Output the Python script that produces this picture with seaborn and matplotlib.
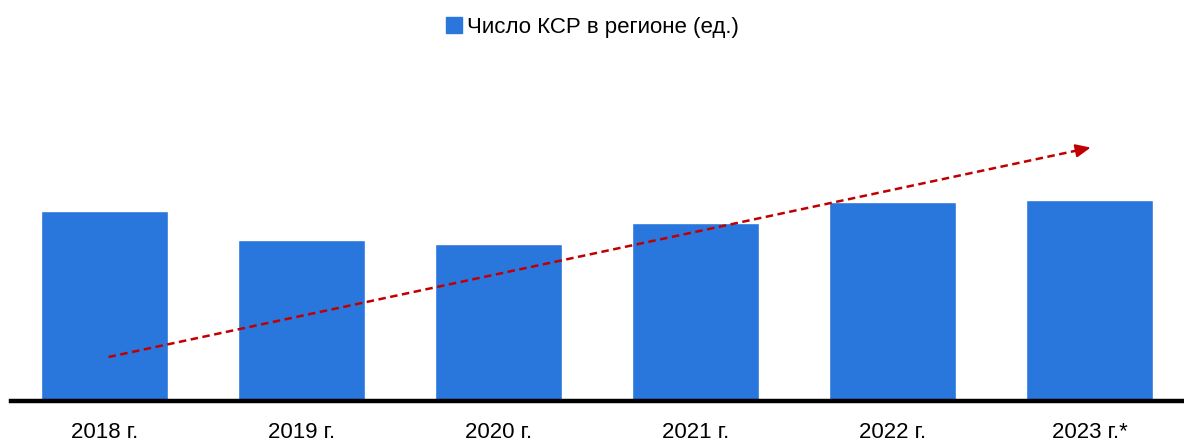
import seaborn as sns
import pandas as pd
import matplotlib.pyplot as plt
from matplotlib.patches import Patch

years = ['2018 г.', '2019 г.', '2020 г.', '2021 г.', '2022 г.', '2023 г.*']
counts = [190, 161, 157, 178, 199, 201]
legend_label = 'Число КСР в регионе (ед.)'

bar_color = '#2976DD'
arrow_color = '#C00000'

df = pd.DataFrame({'year': years, 'count': counts})

sns.set_style('white')
plt.rcParams['font.family'] = ['Liberation Sans', 'DejaVu Sans']

fig = plt.figure(figsize=(11.84, 4.44), dpi=100)
ax = fig.add_axes([11 / 1184, 43 / 444, 1173 / 1184, 260 / 444])

sns.barplot(data=df, x='year', y='count', color=bar_color, width=0.645,
            saturation=1, ax=ax)

ax.set_xlim(-0.475, 5.48)
ax.set_ylim(0, 260)

# trend arrow
x0, y0, x1, y1 = 0.02, 44, 5.02, 254
slope = (y1 - y0) / (x1 - x0)
ax.plot([x0, x1 - 0.08], [y0, y1 - 0.08 * slope],
        color=arrow_color, linestyle=(0, (3, 1.8)), linewidth=1.8)
ax.annotate('', xy=(x1, y1), xytext=(x1 - 0.1, y1 - 0.1 * slope),
            arrowprops=dict(arrowstyle='-|>,head_length=0.9,head_width=0.4',
                            color=arrow_color, lw=1.5))

ax.set_xlabel('')
ax.set_ylabel('')
ax.set_yticks([])
for side in ['left', 'right', 'top']:
    ax.spines[side].set_visible(False)
ax.spines['bottom'].set_linewidth(3.2)
ax.spines['bottom'].set_color('black')
ax.tick_params(axis='x', length=0, pad=15, labelsize=16, labelcolor='black')

fig.legend(handles=[Patch(color=bar_color, label=legend_label)],
           loc='center', bbox_to_anchor=(0.5, 1 - 27 / 444), frameon=False,
           fontsize=16, handlelength=0.75, handleheight=0.75, handletextpad=0.2,
           labelcolor='black')

plt.savefig('out.png', dpi=100)
